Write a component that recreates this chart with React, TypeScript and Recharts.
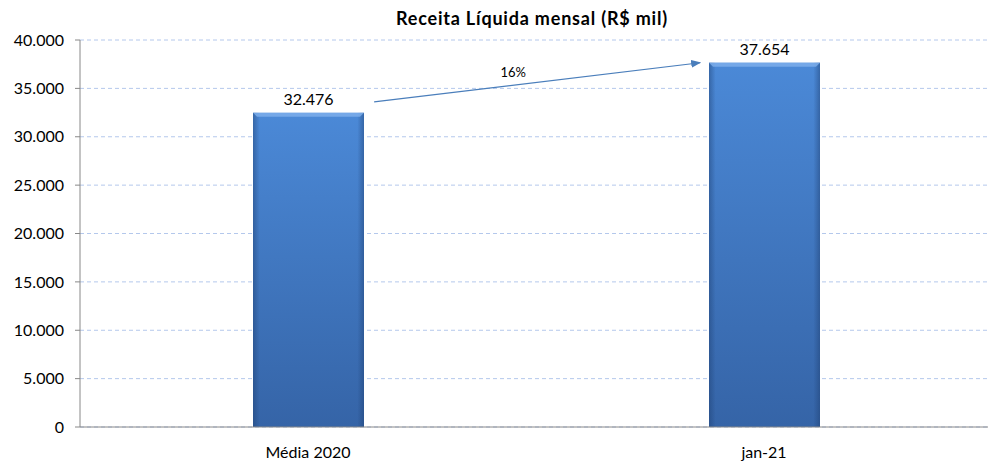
import React from 'react';
import {
  BarChart,
  Bar,
  XAxis,
  YAxis,
  CartesianGrid,
  ReferenceLine,
  LabelList,
} from 'recharts';

const categories = ['Média 2020', 'jan-21'];
const receita = [32476, 37654];
const yTicks = [0, 5000, 10000, 15000, 20000, 25000, 30000, 35000, 40000];
const arrowFrom = { x: 0.645, y: 33600 };
const arrowTo = { x: 1.36, y: 37650 };
const arrowLabel = '16%';
const title = 'Receita Líquida mensal (R$ mil)';

const data = categories.map((name, i) => ({ name, pos: i + 0.5, value: receita[i] }));

const fmt = (v: number) => String(Math.round(v)).replace(/\B(?=(\d{3})+(?!\d))/g, '.');

const FONT = 'Lato, "Open Sans", sans-serif';

function BevelBar(props: any) {
  const { x, y, width, height } = props;
  if (!height || height <= 0) return null;
  const b = 4;
  return (
    <g>
      <rect x={x} y={y} width={width} height={height} fill="url(#barV)" />
      <rect x={x} y={y} width={width} height={height} fill="url(#barH)" />
      <polygon
        points={`${x},${y} ${x + width},${y} ${x + width - b},${y + b} ${x + b},${y + b}`}
        fill="#7fb0ec"
        opacity={0.8}
      />
    </g>
  );
}

function Arrow(props: any) {
  const { x1, y1, x2, y2 } = props;
  if (x1 == null || y1 == null) return <g />;
  return (
    <g>
      <line x1={x1} y1={y1} x2={x2} y2={y2} stroke="#4a7ebb" strokeWidth={1.2} markerEnd="url(#arrowHead)" />
    </g>
  );
}

function ArrowLabel(props: any) {
  const { viewBox } = props;
  if (!viewBox) return null;
  const cx = viewBox.x + viewBox.width / 2;
  const cy = viewBox.y + viewBox.height / 2;
  return (
    <text x={cx - 24} y={cy - 10} textAnchor="middle" dominantBaseline="central" fill="#000" fontSize={13} fontFamily={FONT}>
      {arrowLabel}
    </text>
  );
}

export default function App() {
  return (
    <div style={{ position: 'absolute', left: 0, top: 0, width: 988, height: 461, background: '#fff', overflow: 'hidden' }}>
      <div
        style={{
          position: 'absolute',
          left: 0,
          width: 1064,
          top: 7,
          textAlign: 'center',
          fontFamily: FONT,
          fontWeight: 700,
          fontSize: 18,
          letterSpacing: 0.8,
          color: '#000',
          whiteSpace: 'nowrap',
        }}
      >
        {title}
      </div>
      <BarChart
        width={988}
        height={461}
        data={data}
        margin={{ top: 40, right: -4, bottom: 0, left: 0 }}
        barSize={111}
      >
        <defs>
          <linearGradient id="barV" x1="0" y1="0" x2="0" y2="1">
            <stop offset="0%" stopColor="#4b89d7" />
            <stop offset="100%" stopColor="#3564a7" />
          </linearGradient>
          <linearGradient id="barH" x1="0" y1="0" x2="1" y2="0">
            <stop offset="0%" stopColor="#1d3d6e" stopOpacity={0.45} />
            <stop offset="6%" stopColor="#1d3d6e" stopOpacity={0} />
            <stop offset="94%" stopColor="#1d3d6e" stopOpacity={0} />
            <stop offset="100%" stopColor="#1d3d6e" stopOpacity={0.45} />
          </linearGradient>
          <marker id="arrowHead" markerWidth="10" markerHeight="8" refX="9" refY="4" orient="auto" markerUnits="userSpaceOnUse">
            <path d="M0,0 L10,4 L0,8 Z" fill="#4a7ebb" />
          </marker>
        </defs>
        <CartesianGrid vertical={false} stroke="#b4c8ec" strokeDasharray="4 3" />
        <XAxis
          dataKey="name"
          stroke="#888888"
          tickLine={false}
          height={34}
          tickMargin={14}
          tick={{ fill: '#000', fontSize: 16, fontFamily: FONT }}
        />
        <XAxis xAxisId="n" dataKey="pos" type="number" domain={[0, 2]} allowDataOverflow hide />
        <YAxis
          domain={[0, 40000]}
          ticks={yTicks}
          tickFormatter={fmt}
          width={80}
          stroke="#888888"
          tickSize={5}
          tickMargin={11}
          tick={{ fill: '#000', fontSize: 16, fontFamily: FONT }}
          interval={0}
        />
        <Bar dataKey="value" shape={BevelBar} isAnimationActive={false}>
          <LabelList
            dataKey="value"
            position="top"
            offset={8}
            formatter={(v: any) => fmt(Number(v))}
            style={{ fill: '#000', fontSize: 16, fontFamily: FONT }}
          />
        </Bar>
        <ReferenceLine
          xAxisId="n"
          ifOverflow="visible"
          segment={[arrowFrom, arrowTo]}
          shape={Arrow}
          label={<ArrowLabel />}
        />
      </BarChart>
    </div>
  );
}
